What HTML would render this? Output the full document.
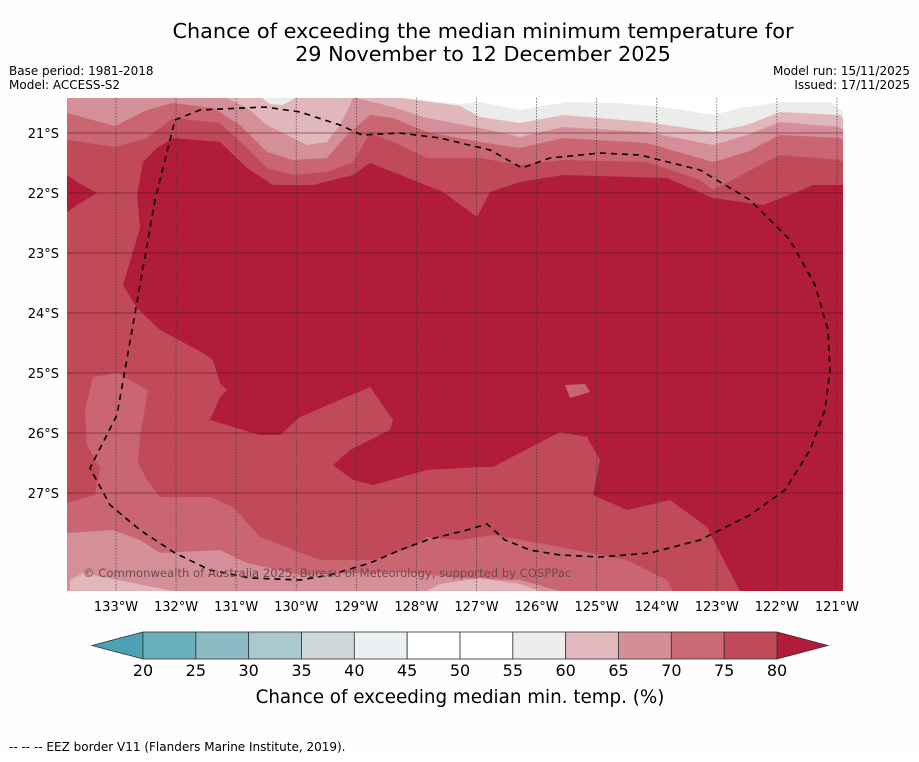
<!DOCTYPE html>
<html><head><meta charset="utf-8"><style>
html,body{margin:0;padding:0;background:#fff;}
body{width:919px;height:758px;overflow:hidden;font-family:"DejaVu Sans","Liberation Sans",sans-serif;}
</style></head><body>
<svg id="chart" width="919" height="758" viewBox="0 0 919 758" xmlns="http://www.w3.org/2000/svg" font-family="'DejaVu Sans','Liberation Sans',sans-serif">
<rect x="0" y="0" width="919" height="758" fill="#fefefe"/>
<text x="483" y="38" font-size="20.8" text-anchor="middle" fill="#000">Chance of exceeding the median minimum temperature for</text>
<text x="483" y="61" font-size="20.8" text-anchor="middle" fill="#000">29 November to 12 December 2025</text>
<text x="9" y="75" font-size="12">Base period: 1981-2018</text>
<text x="9" y="89" font-size="12">Model: ACCESS-S2</text>
<text x="910" y="75" font-size="12" text-anchor="end">Model run: 15/11/2025</text>
<text x="910" y="89" font-size="12" text-anchor="end">Issued: 17/11/2025</text>
<defs><clipPath id="mapclip"><rect x="67" y="98" width="776" height="493"/></clipPath></defs>
<g id="map" clip-path="url(#mapclip)">
<rect x="67" y="98" width="776" height="493" fill="#ffffff"/>
<polygon fill="#ececea" points="67,98 403,98 460,104 480,102 520,110 567,102 620,103 670,108 713,115 740,108 780,102 830,102 843,112 843,591 67,591"/>
<polygon fill="#e1b7bc" points="67,98 262,98 270,104 283,105 295,98 403,98 460,106 480,117 520,123 563,115 647,122 713,132 747,125 780,112 840,115 843,118 843,591 67,591"/>
<polygon fill="#d58f98" points="67,98 227,98 247,108 267,125 307,145 327,142 340,125 350,105 353,98 357,98 393,107 427,118 480,128 520,137 563,127 647,132 713,145 747,135 780,122 840,127 843,130 843,591 67,591"/>
<polygon fill="#c96671" points="67,113 115,126 147,110 173,103 213,108 240,125 267,152 293,160 327,158 347,135 370,115 393,118 427,132 480,142 520,148 563,138 647,143 713,162 747,152 780,135 840,138 843,140 843,591 67,591"/>
<polygon fill="#c14a58" points="67,140 115,147 147,138 173,118 220,123 247,148 267,168 293,175 327,172 353,162 370,133 393,142 427,158 480,158 520,165 563,160 647,162 700,180 713,190 747,172 780,155 840,160 843,162 843,591 67,591"/>
<polygon fill="#c96671" points="67,503 95,495 100,468 87,445 85,410 93,377 117,373 148,390 140,437 138,463 147,480 160,497 210,497 233,507 260,537 320,560 373,560 413,547 427,537 460,540 493,535 560,547 627,560 667,580 673,591 67,591"/>
<polygon fill="#d58f98" points="67,533 113,530 140,540 160,553 220,550 247,563 300,575 400,572 460,578 520,580 560,591 67,591"/>
<polygon fill="#e1b7bc" points="70,580 83,573 103,577 153,587 173,591 70,591"/>
<polygon fill="#e1b7bc" points="427,591 440,584 480,578 520,584 540,591"/>
<polygon fill="#b01c3a" points="143,162 157,148 173,138 220,142 247,168 273,185 313,185 353,175 370,163 393,172 443,192 477,217 490,192 520,182 563,175 667,178 713,198 763,205 797,192 813,185 843,185 843,591 740,591 717,547 707,527 670,500 627,510 593,495 600,460 587,437 560,432 493,467 480,467 427,470 373,485 353,480 333,465 350,450 390,430 393,420 370,387 300,417 280,435 260,435 210,420 220,397 227,390 220,383 213,360 203,353 160,330 137,308 123,285 140,228 137,195"/>
<polygon fill="#b01c3a" points="67,175 77,182 97,193 77,205 67,212"/>
<polygon fill="#c14a58" points="566,455 575,463 566,471 557,463"/>
<polygon fill="#c96671" points="565,385 585,384 590,392 570,398"/>
<g id="grid"></g>
<polyline fill="none" stroke="#000" stroke-width="1.6" stroke-dasharray="6,5" points="175,120 200,110 265,107 300,112 340,125 362,135 400,133 440,138 490,150 522,168 550,158 600,153 640,155 700,170 750,200 790,240 815,285 828,330 830,370 825,410 810,450 785,490 750,515 700,540 650,553 600,557 560,555 530,550 505,540 487,524 467,530 427,540 400,550 370,563 330,575 300,580 250,578 210,570 175,553 140,530 110,505 90,468 117,415 140,285 155,200 175,120"/>
<text x="83" y="577" font-size="11.6" fill="#6e4a50">© Commonwealth of Australia 2025, Bureau of Meteorology, supported by COSPPac</text>
</g>
<g id="axes"></g>
<g id="colorbar"></g>
<text x="460" y="703" font-size="18.3" text-anchor="middle">Chance of exceeding median min. temp. (%)</text>
<text x="9" y="751" font-size="12">--  --  -- EEZ border V11 (Flanders Marine Institute, 2019).</text>
</svg>
<script>
const lonTicks = [133,132,131,130,129,128,127,126,125,124,123,122,121];
const latTicks = [21,22,23,24,25,26,27];
const cbLevels = [20,25,30,35,40,45,50,55,60,65,70,75,80];
const cbColors = ["#6aafbd","#8bbac5","#a9c9ce","#cfd9db","#ebf0f2","#ffffff","#ffffff","#ececea","#e0b8bd","#d48e97","#cb6a75","#c14a58"];
const NS="http://www.w3.org/2000/svg";
const xLon = lon => 116 + (133 - lon) * 60.08;
const yLat = lat => 133 + (lat - 21) * 60;
const xCb = v => 143 + (v - 20) * (777 - 143) / 60;
function mk(tag, attrs, parent){const e=document.createElementNS(NS,tag);for(const k in attrs)e.setAttribute(k,attrs[k]);parent.appendChild(e);return e;}
const grid=document.getElementById('grid'), axes=document.getElementById('axes'), cb=document.getElementById('colorbar');
lonTicks.forEach(l=>{
  const x=xLon(l);
  const ln=mk('line',{x1:x,y1:98,x2:x,y2:591,stroke:'#333',"stroke-width":0.8,"stroke-dasharray":"1.5,1.5",opacity:0.8},grid);
  
  
  const t=mk('text',{x:x,y:611,"font-size":13,"text-anchor":"middle"},axes);
  t.textContent=l+'°W';
  
  
});
latTicks.forEach(l=>{
  const y=yLat(l);
  const ln=mk('line',{x1:67,y1:y,x2:843,y2:y,stroke:'#5a1020',"stroke-width":0.8,opacity:0.75},grid);
  
  
  const t=mk('text',{x:59,y:y+5,"font-size":13,"text-anchor":"end"},axes);
  t.textContent=l+'°S';
  
  
});
const y0=632,y1=659,ym=(y0+y1)/2;
const lt=mk('polygon',{points:`${xCb(20)},${y0} 92,${ym} ${xCb(20)},${y1}`,fill:'#4aa3b3',stroke:'#333',"stroke-width":0.8},cb);


const rt=mk('polygon',{points:`${xCb(80)},${y0} 828,${ym} ${xCb(80)},${y1}`,fill:'#b01c3a',stroke:'#333',"stroke-width":0.8},cb);


cbColors.forEach((c,i)=>{
  const xa=xCb(cbLevels[i]), xb=xCb(cbLevels[i+1]);
  const r=mk('rect',{x:xa,y:y0,width:xb-xa,height:y1-y0,fill:c,stroke:'#333',"stroke-width":0.8},cb);
  
  
});
cbLevels.forEach(v=>{
  const t=mk('text',{x:xCb(v),y:676,"font-size":16,"text-anchor":"middle"},cb);
  t.textContent=v;
  
  
});
</script>
</body></html>
